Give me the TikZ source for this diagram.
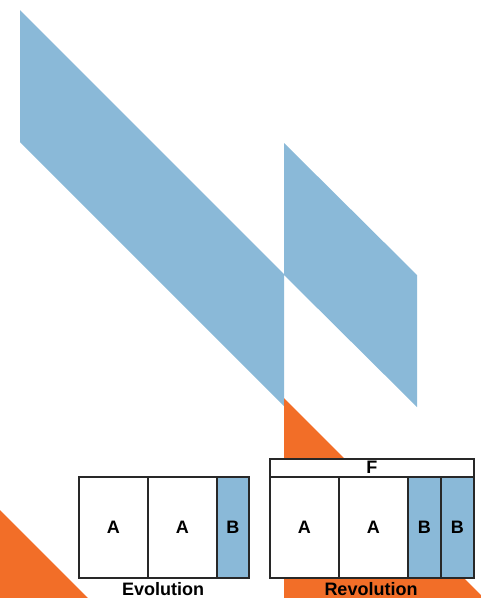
\documentclass[tikz,border=0pt]{standalone}
\usepackage{fontspec}
\setmainfont{Liberation Sans}
\definecolor{paneblue}{RGB}{138,185,216}
\definecolor{paneorange}{RGB}{242,110,40}
\definecolor{paneline}{RGB}{40,40,40}
\tikzset{
  cell/.style={draw=paneline, line width=1.5pt, fill=white, anchor=north west,
    inner sep=0pt, minimum height=101pt, font=\fontsize{18}{20}\selectfont\bfseries},
  cellb/.style={cell, fill=paneblue},
  caption/.style={anchor=base, inner sep=0pt, font=\fontsize{18}{20}\selectfont\bfseries}
}
\begin{document}
\begin{tikzpicture}[x=1pt, y=-1pt]
    \useasboundingbox (0,0) rectangle (481,598);

    % Bandas azules (diagonales)
    \fill[paneblue] (20,10) -- (284,274) -- (284,406) -- (20,142) -- cycle;
    \fill[paneblue] (284,143) -- (417,275) -- (417,407) -- (284,275) -- cycle;

    % Triangulos naranjas
    \fill[paneorange] (0,510) -- (88,598) -- (0,598) -- cycle;
    \fill[paneorange] (284,398) -- (484,598) -- (284,598) -- cycle;

    % EVOLUCION
    \node[cell, minimum width=69pt] (evoA1) at (78,476) {A};
    \node[cell, minimum width=69pt] (evoA2) at (147,476) {A};
    \node[cellb, minimum width=32pt] (evoB) at (216,476) {B};
    \node[caption] (evo) at (163,595.5) {Evolution};

    % REVOLUCION
    \node[cell, minimum width=204pt, minimum height=18pt] (revF) at (269,458) {F};
    \node[cell, minimum width=69pt] (revA1) at (269,476) {A};
    \node[cell, minimum width=69pt] (revA2) at (338,476) {A};
    \node[cellb, minimum width=33pt] (revB1) at (407,476) {B};
    \node[cellb, minimum width=33pt] (revB2) at (440,476) {B};
    \node[caption] (rev) at (371,595.5) {Revolution};
\end{tikzpicture}
\end{document}
